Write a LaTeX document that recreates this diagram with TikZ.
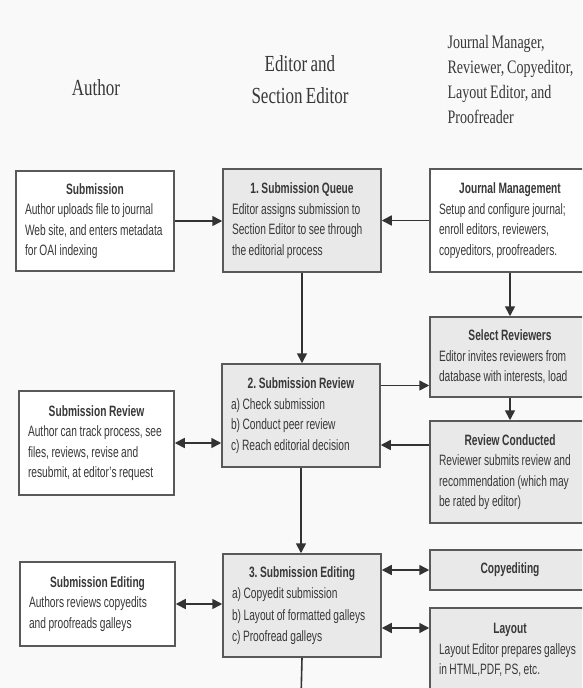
\documentclass[tikz,border=0pt]{standalone}
\usepackage{fontspec}
\setmainfont{Liberation Sans}[FakeStretch=0.68, WordSpace=0.9]
\newfontfamily\headfont{Liberation Serif}[FakeStretch=0.74, WordSpace=0.8]
\usepackage{xcolor}
\usepackage{tikz}
\usetikzlibrary{
arrows.meta,
positioning,
calc
}
\definecolor{pagebg}{HTML}{F9F9F9}
\definecolor{boxline}{HTML}{595959}
\definecolor{stagefill}{HTML}{E9E9E9}
\definecolor{txtgray}{HTML}{383838}
\definecolor{headgray}{HTML}{383838}
\definecolor{arrowgray}{HTML}{333333}

% centred bold title line inside a left-aligned box
\newcommand{\boxhead}[1]{\hfill\textbf{#1}\hfill\null\\}

\frenchspacing
\begin{document}
\begin{tikzpicture}[
  x=1pt, y=-1pt,
  authbox/.style={draw=boxline, line width=1.5pt, fill=white, inner xsep=9pt, inner ysep=0pt,
    align=flush left, text=txtgray, font=\fontsize{15}{20.5}\selectfont},
  stagebox/.style={authbox, fill=stagefill},
  flow/.style={line width=1.6pt, draw=arrowgray, -{Triangle[length=10pt,width=10pt]}},
  both/.style={flow, {Triangle[length=10pt,width=10pt]}-{Triangle[length=10pt,width=10pt]}},
  heading/.style={text=headgray, align=center, font=\headfont\fontsize{23}{32}\selectfont}
]

% page
\clip (0,0) rectangle (582,688);
\fill[pagebg] (0,0) rectangle (582,688);

% Column headings
\node[heading] (hauthor) at (96,88) {Author};
\node[heading] (heditor) at (300,80) {Editor and\\Section Editor};
\node[heading, anchor=west, align=left, font=\headfont\fontsize{19}{25}\selectfont] (hothers) at (444,79)
  {Journal Manager,\\Reviewer, Copyeditor,\\Layout Editor, and\\Proofreader};

% Author column
\node[authbox, text width=140pt, minimum height=100pt] (sub) at (95,221)
  {\boxhead{Submission}Author uploads file to journal\\Web site, and enters metadata\\for OAI indexing};
\node[authbox, text width=137pt, minimum height=104pt] (arev) at (96.5,443)
  {\boxhead{Submission Review}Author can track process, see\\files, reviews, revise and\\resubmit, at editor's request};
\node[authbox, text width=137pt, minimum height=84pt] (aedit) at (97.5,604)
  {\boxhead{Submission Editing}Authors reviews copyedits\\and proofreads galleys};

% Editor column
\node[stagebox, text width=140pt, minimum height=103pt] (queue) at (302,220.5)
  {\boxhead{1. Submission Queue}Editor assigns submission to\\Section Editor to see through\\the editorial process};
\node[stagebox, text width=140pt, minimum height=103pt] (review) at (301,415.5)
  {\boxhead{2. Submission Review}a) Check submission\\b) Conduct peer review\\c) Reach editorial decision};
\node[stagebox, text width=140pt, minimum height=103pt, font=\fontsize{15}{21.5}\selectfont] (editing) at (302,605.5)
  {\boxhead{3. Submission Editing}a) Copyedit submission\\b) Layout of formatted galleys\\c) Proofread galleys};

% Others column
\node[authbox, text width=142pt, minimum height=103pt] (jm) at (510,220.5)
  {\boxhead{Journal Management}Setup and configure journal;\\enroll editors, reviewers,\\copyeditors, proofreaders.};
\node[stagebox, text width=142pt, minimum height=80pt] (selrev) at (510,357)
  {\boxhead{Select Reviewers}Editor invites reviewers from\\database with interests, load};
\node[stagebox, text width=142pt, minimum height=102pt] (revcond) at (510,472)
  {\boxhead{Review Conducted}Reviewer submits review and\\recommendation (which may\\be rated by editor)};
\node[stagebox, text width=142pt, minimum height=40pt, align=center] (copyed) at (510,570)
  {\textbf{Copyediting}};
\node[stagebox, text width=142pt, minimum height=84pt] (layout) at (510,650)
  {\boxhead{Layout}Layout Editor prepares galleys\\in HTML,PDF, PS, etc.};

% Connectors
\draw[flow] (sub.east) -- (sub.east -| queue.west);
\draw[flow] (jm.west) -- (jm.west -| queue.east);
\draw[flow] (queue.south) -- (queue.south |- review.north);
\draw[flow] (jm.south) -- (jm.south |- selrev.north);
\draw[flow] ([yshift=30pt]review.east) -- ([yshift=30pt]review.east -| selrev.west);
\draw[flow] (selrev.south) -- (selrev.south |- revcond.north);
\draw[flow] ([yshift=27pt]revcond.west) -- ([yshift=27pt]revcond.west -| review.east);
\draw[both] (arev.east) -- (arev.east -| review.west);
\draw[flow] (review.south) -- (review.south |- editing.north);
\draw[both] (aedit.east) -- (aedit.east -| editing.west);
\draw[both] (copyed.west) -- (copyed.west -| editing.east);
\draw[both] ([yshift=22pt]layout.west) -- ([yshift=22pt]layout.west -| editing.east);
\coordinate (next) at (301,700);
\draw[flow] (editing.south) -- (next);

\end{tikzpicture}
\end{document}
